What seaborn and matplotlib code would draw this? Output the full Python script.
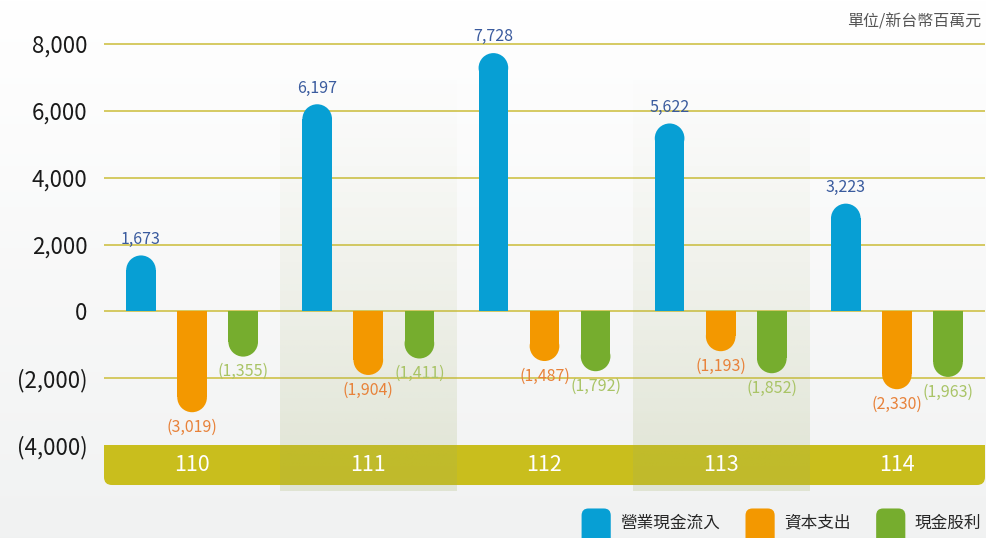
import numpy as np
import pandas as pd
import matplotlib
matplotlib.use("Agg")
import matplotlib.pyplot as plt
import seaborn as sns
from matplotlib.patches import Rectangle, Ellipse, FancyBboxPatch, Patch
from matplotlib.legend_handler import HandlerPatch
from matplotlib.ticker import FuncFormatter

# Data (NT$ millions)
years = ["110", "111", "112", "113", "114"]
series_names = ["營業現金流入", "資本支出", "現金股利"]
operating_cf = [1673, 6197, 7728, 5622, 3223]
capex = [-3019, -1904, -1487, -1193, -2330]
dividends = [-1355, -1411, -1792, -1852, -1963]
y_ticks = [-4000, -2000, 0, 2000, 4000, 6000, 8000]

bar_colors = ["#079FD4", "#F39800", "#76AD2E"]
label_colors = ["#3A5B9E", "#E8823A", "#A9C466"]

df = pd.DataFrame({
    "year": years * 3,
    "item": [series_names[0]] * 5 + [series_names[1]] * 5 + [series_names[2]] * 5,
    "value": operating_cf + capex + dividends,
})

sns.set_style("white")
plt.rcParams["font.family"] = ["Noto Sans CJK TC", "DejaVu Sans"]

fig = plt.figure(figsize=(9.86, 5.38), dpi=100)

# background gradient
ax_bg = fig.add_axes([0, 0, 1, 1], zorder=0)
grad = np.linspace(0, 1, 256)[:, None]
top_c = np.array([1.0, 1.0, 1.0])
bot_c = np.array([0.945, 0.949, 0.949])
bg = top_c + (bot_c - top_c) * grad[..., None]
ax_bg.imshow(bg, aspect="auto", extent=(0, 1, 0, 1))
ax_bg.axis("off")

ax = fig.add_axes([104 / 986, 0, 881 / 986, 1], zorder=1)
ax.set_facecolor("none")

ytop, ybot = 9317, -6783
sns.barplot(data=df, x="year", y="value", hue="item", hue_order=series_names,
            palette=bar_colors, saturation=1, width=0.87, gap=0.42, errorbar=None,
            linewidth=0, legend=False, ax=ax, zorder=2)
bars = list(ax.patches)

ax.set_xlim(-0.5, 4.5)
ax.set_ylim(ybot, ytop)

# round the free end of each bar, then label it
px_x = ax.bbox.width / 5.0
px_y = ax.bbox.height / (ytop - ybot)
for k, b in enumerate(bars):
    x0, w, h = b.get_x(), b.get_width(), b.get_height()
    if h == 0:
        continue
    ry = (w * px_x / 2) / px_y
    s = np.sign(h)
    b.set_height(h - s * ry)
    ax.add_patch(Ellipse((x0 + w / 2, h - s * ry), w, 2 * ry,
                         facecolor=b.get_facecolor(), edgecolor="none", zorder=2))
    idx = k // len(years)
    if h >= 0:
        ax.text(x0 + w / 2, h + 230, f"{h:,.0f}", ha="center", va="bottom",
                fontsize=11.5, color=label_colors[idx], zorder=4)
    else:
        ax.text(x0 + w / 2, h - 200, f"({-h:,.0f})", ha="center", va="top",
                fontsize=11.5, color=label_colors[idx], zorder=4)

# category band with rounded bottom corners
band_color = "#C9BE1D"
aspect = px_x / px_y
ax.add_patch(FancyBboxPatch((-0.5, -5197), 5, 1197,
                            boxstyle="round,pad=0,rounding_size=0.045",
                            mutation_aspect=aspect, facecolor=band_color,
                            edgecolor="none", zorder=0.8))
ax.add_patch(Rectangle((-0.5, -4600), 5, 600, facecolor=band_color,
                       edgecolor="none", zorder=0.8))
for i, yr in enumerate(years):
    ax.text(i, -4600, yr, ha="center", va="center", fontsize=15.5,
            color="white", zorder=4)

# shaded columns for alternate years
shade = np.zeros((256, 1, 4))
shade[..., 0] = 160 / 255
shade[..., 1] = 175 / 255
shade[..., 2] = 100 / 255
shade[..., 3] = (np.linspace(0, 1, 256) ** 1.3 * 0.22)[:, None]
for i in (1, 3):
    ax.imshow(shade, extent=(i - 0.5, i + 0.5, -5376, 7500), aspect="auto", zorder=1)
ax.set_xlim(-0.5, 4.5)
ax.set_ylim(ybot, ytop)

# grid and y axis
ax.set_yticks(y_ticks)
ax.yaxis.set_major_formatter(FuncFormatter(lambda v, _: f"{v:,.0f}" if v >= 0 else f"({-v:,.0f})"))
ax.grid(axis="y", color="#D2C656", linewidth=1.3, zorder=0.5)
ax.set_axisbelow(True)
ax.yaxis.get_gridlines()[0].set_visible(False)
ax.tick_params(axis="y", length=0, pad=12, labelsize=16, labelcolor="#1A1A1A")
ax.set_xticks([])
ax.set_xlabel("")
ax.set_ylabel("")
for sp in ax.spines.values():
    sp.set_visible(False)

fig.text(981 / 986, 1 - 22 / 538, "單位/新台幣百萬元", ha="right", va="center",
         fontsize=11.5, color="#555555")


# legend with rounded swatches cut by the image bottom
class RoundHandler(HandlerPatch):
    def create_artists(self, legend, orig_handle, xdescent, ydescent, width, height, fontsize, trans):
        cy = -ydescent + height / 2
        p = FancyBboxPatch((-xdescent, cy - 30), width, 39.5,
                           boxstyle="round,pad=0,rounding_size=5",
                           facecolor=orig_handle.get_facecolor(), edgecolor="none",
                           transform=trans)
        return [p]


handles = [Patch(facecolor=c, label=n) for c, n in zip(bar_colors, series_names)]
ax.legend(handles=handles, loc="center right", ncol=3, frameon=False,
          bbox_to_anchor=(981 / 986, 1 - 523 / 538), bbox_transform=fig.transFigure,
          fontsize=12, handlelength=1.75, handleheight=0.7, handletextpad=0.55,
          columnspacing=1.55, borderpad=0, borderaxespad=0,
          handler_map={Patch: RoundHandler()})

fig.savefig("out.png", dpi=100)
